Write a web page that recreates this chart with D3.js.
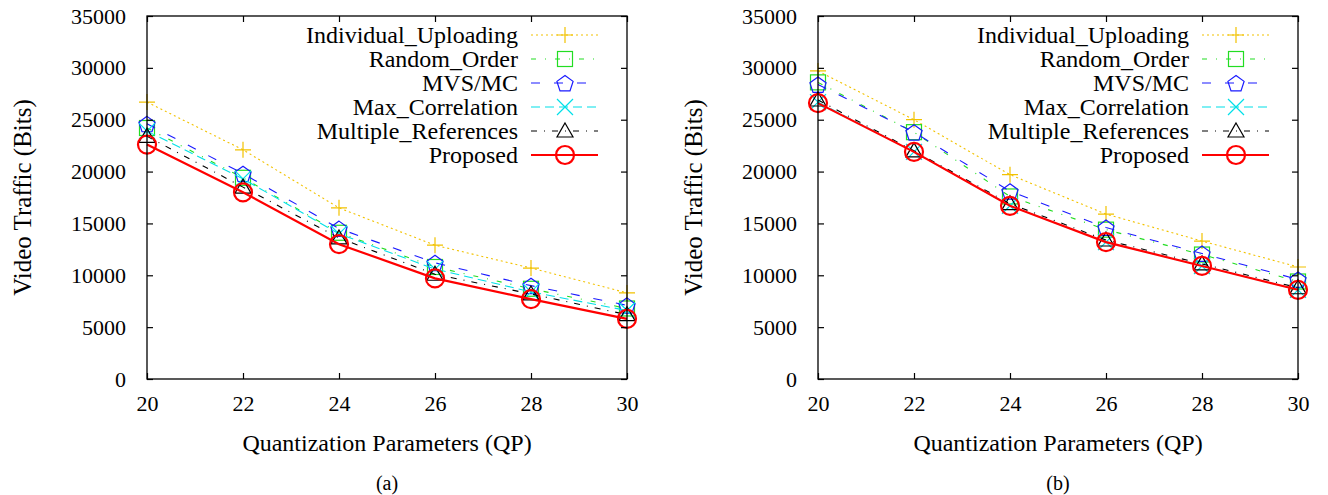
<!DOCTYPE html>
<html>
<head>
<meta charset="utf-8">
<script src="https://cdn.jsdelivr.net/npm/d3@7"></script>
<style>
  html, body { margin: 0; padding: 0; background: #fff; }
  svg { display: block; }
</style>
</head>
<body>
<svg id="chart" width="1328" height="495"></svg>
<script>
// ---- data ----
const qp = [20, 22, 24, 26, 28, 30];
const yTicks = [0, 5000, 10000, 15000, 20000, 25000, 30000, 35000];
const seriesNames = ["Individual_Uploading", "Random_Order", "MVS/MC", "Max_Correlation", "Multiple_References", "Proposed"];

// panel (a)
const aIndividual = [26700, 22100, 16500, 12900, 10700, 8300];
const aRandom     = [24200, 19400, 14100, 10800, 8700, 6800];
const aMVS        = [24600, 19800, 14500, 11200, 9000, 7100];
const aMaxCorr    = [23900, 19300, 14000, 10600, 8400, 6600];
const aMultiRef   = [23400, 18500, 13600, 10100, 8200, 6200];
const aProposed   = [22600, 18000, 13000, 9700, 7700, 5800];

// panel (b)
const bIndividual = [29700, 25000, 19700, 15900, 13300, 10800];
const bRandom     = [28600, 23800, 17600, 14400, 12000, 9400];
const bMVS        = [28400, 23800, 18100, 14600, 12100, 9600];
const bMaxCorr    = [26700, 21900, 16700, 13200, 10900, 8600];
const bMultiRef   = [26900, 22000, 16900, 13400, 11100, 8800];
const bProposed   = [26600, 21900, 16700, 13200, 10900, 8600];

const panelLabels = ["(a)", "(b)"];
const xTitle = "Quantization Parameters (QP)";
const yTitle = "Video Traffic (Bits)";

// ---- styles ----
const FONT = "Liberation Serif, Times New Roman, Times, Nimbus Roman, Noto Serif, DejaVu Serif, serif";
const styles = [
  { color: "#f2c200", dash: "2,3", width: 1.1, marker: "plus" },
  { color: "#22dd22", dash: "5,9,1,9", width: 1.1, marker: "square" },
  { color: "#1a1aff", dash: "9,14", width: 1.1, marker: "pentagon" },
  { color: "#00e0e8", dash: "9,5", width: 1.1, marker: "cross" },
  { color: "#000000", dash: "6,7,1,7", width: 1.1, marker: "triangle" },
  { color: "#ff0000", dash: null, width: 2.2, marker: "circle" }
];

const svg = d3.select("#chart");

function drawMarker(g, type, x, y, color) {
  const s = 8;
  const sw = type === "circle" ? 2.2 : 1.2;
  const common = sel => sel.attr("fill", "none").attr("stroke", color).attr("stroke-width", sw);
  if (type === "plus") {
    common(g.append("path").attr("d", `M${x - s},${y}H${x + s}M${x},${y - s}V${y + s}`));
  } else if (type === "square") {
    common(g.append("rect").attr("x", x - 7.5).attr("y", y - 7.5).attr("width", 15).attr("height", 15));
  } else if (type === "pentagon") {
    const pts = d3.range(5).map(i => {
      const a = -Math.PI / 2 + i * 2 * Math.PI / 5;
      return [x + 8.5 * Math.cos(a), y + 8.5 * Math.sin(a) + 1];
    });
    common(g.append("path").attr("d", d3.line()(pts) + "Z"));
  } else if (type === "cross") {
    common(g.append("path").attr("d", `M${x - s},${y - s}L${x + s},${y + s}M${x - s},${y + s}L${x + s},${y - s}`));
  } else if (type === "triangle") {
    common(g.append("path").attr("d", `M${x},${y - 8}L${x + 8},${y + 6}L${x - 8},${y + 6}Z`));
  } else if (type === "circle") {
    common(g.append("circle").attr("cx", x).attr("cy", y).attr("r", 9));
  }
}

function drawPanel(opts) {
  const { x0, x1, y0, y1, data, label, legendRight } = opts;
  const g = svg.append("g").attr("font-family", FONT);
  const xs = d3.scaleLinear().domain([20, 30]).range([x0, x1]);
  const ys = d3.scaleLinear().domain([0, 35000]).range([y1, y0]);

  // series lines
  const line = d3.line().x((d, i) => xs(qp[i])).y(d => ys(d));
  data.forEach((vals, si) => {
    const st = styles[si];
    const p = g.append("path").attr("d", line(vals))
      .attr("fill", "none").attr("stroke", st.color).attr("stroke-width", st.width);
    if (st.dash) p.attr("stroke-dasharray", st.dash);
    vals.forEach((v, i) => drawMarker(g, st.marker, xs(qp[i]), ys(v), st.color));
  });

  // frame
  g.append("rect").attr("x", x0).attr("y", y0).attr("width", x1 - x0).attr("height", y1 - y0)
    .attr("fill", "none").attr("stroke", "#000").attr("stroke-width", 1.3);

  // axes with inward ticks
  const axL = g.append("g").attr("transform", `translate(${x0},0)`)
    .call(d3.axisLeft(ys).tickValues(yTicks).tickSize(-6).tickPadding(21).tickFormat(d3.format("d")));
  const axR = g.append("g").attr("transform", `translate(${x1},0)`)
    .call(d3.axisRight(ys).tickValues(yTicks).tickSize(-6).tickFormat(""));
  const axB = g.append("g").attr("transform", `translate(0,${y1})`)
    .call(d3.axisBottom(xs).tickValues(qp).tickSize(-6).tickPadding(16).tickFormat(d3.format("d")));
  const axT = g.append("g").attr("transform", `translate(0,${y0})`)
    .call(d3.axisTop(xs).tickValues(qp).tickSize(-6).tickFormat(""));
  [axL, axR, axB, axT].forEach(a => {
    a.attr("font-family", FONT);
    a.select(".domain").remove();
    a.selectAll(".tick line").attr("stroke", "#000").attr("stroke-width", 1.2);
    a.selectAll("text").attr("font-family", FONT).attr("font-size", 22).attr("fill", "#000");
  });

  // titles
  const cx = (x0 + x1) / 2;
  g.append("text").attr("x", cx).attr("y", 451).attr("text-anchor", "middle")
    .attr("font-size", 24).text(xTitle);
  g.append("text").attr("transform", `translate(${x0 - 116},${(y0 + y1) / 2}) rotate(-90)`)
    .attr("text-anchor", "middle").attr("font-size", 25).text(yTitle);
  g.append("text").attr("x", cx).attr("y", 490).attr("text-anchor", "middle")
    .attr("font-size", 20).text(label);

  // legend
  const rowY = d3.scaleLinear().domain([0, 5]).range([35, 155]);
  seriesNames.forEach((name, si) => {
    const st = styles[si];
    const yy = rowY(si);
    g.append("text").attr("x", legendRight).attr("y", yy).attr("dy", "0.35em")
      .attr("text-anchor", "end").attr("font-size", 24).text(name);
    const l = g.append("line").attr("x1", legendRight + 13).attr("x2", legendRight + 80)
      .attr("y1", yy).attr("y2", yy).attr("stroke", st.color).attr("stroke-width", st.width);
    if (st.dash) l.attr("stroke-dasharray", st.dash);
    drawMarker(g, st.marker, legendRight + 47, yy, st.color);
  });
}

drawPanel({ x0: 147, x1: 627, y0: 16, y1: 379, label: panelLabels[0], legendRight: 518,
  data: [aIndividual, aRandom, aMVS, aMaxCorr, aMultiRef, aProposed] });
drawPanel({ x0: 818, x1: 1298, y0: 16, y1: 379, label: panelLabels[1], legendRight: 1189,
  data: [bIndividual, bRandom, bMVS, bMaxCorr, bMultiRef, bProposed] });
</script>
</body>
</html>
